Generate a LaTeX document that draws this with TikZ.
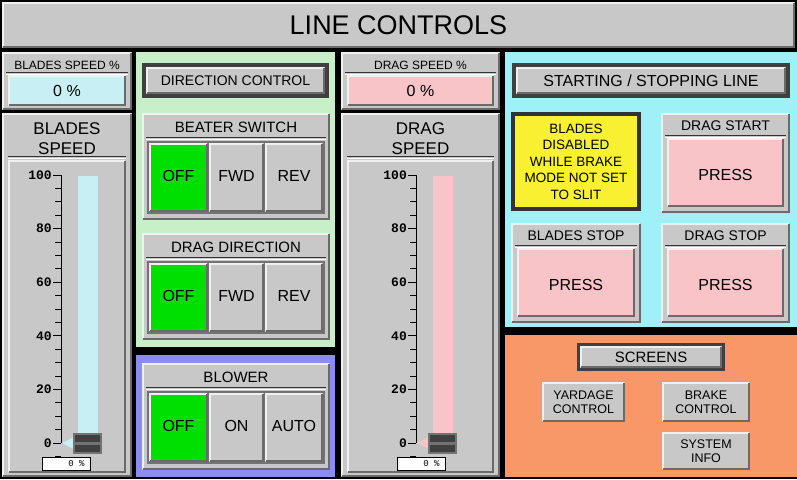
\documentclass[tikz,border=0pt]{standalone}
\usepackage{fontspec}
\setmainfont{Liberation Sans}
\newfontfamily\monof{Liberation Mono}
\definecolor{pg}{HTML}{C8C8C8}
\definecolor{hl}{HTML}{F0F0F0}
\definecolor{sh}{HTML}{6A6A6A}
\definecolor{cy}{HTML}{C8F0F4}
\definecolor{pk}{HTML}{F8C4C8}
\definecolor{grn}{HTML}{C8F0C8}
\definecolor{blu}{HTML}{8C8CF0}
\definecolor{cyp}{HTML}{A0F0F8}
\definecolor{org}{HTML}{F89868}
\definecolor{on}{HTML}{00E000}
\definecolor{yl}{HTML}{F8F030}
\newcommand\bev[5]{%
  \fill[#5] (#1,#2) rectangle (#3,#4);
  \draw[line width=2pt,hl] (#1+1,#4-1)--(#1+1,#2+1)--(#3-1,#2+1);
  \draw[line width=2pt,sh] (#3-1,#2+1)--(#3-1,#4-1)--(#1+1,#4-1);}
\newcommand\sep[3]{\draw[line width=1pt,black!80] (#1,#3)--(#2,#3); \draw[line width=1pt,white] (#1,#3+2)--(#2,#3+2);}
\newcommand\btn[6]{\bev{#1}{#2}{#3}{#4}{#5}\node[txt] (#6) at ({(#1+#3)/2},{(#2+#4)/2}) {\strut #6};}
\tikzset{txt/.style={font=\fontsize{16}{18}\selectfont,inner sep=0pt,align=center},
 lbl/.style={font=\fontsize{15}{17}\selectfont,inner sep=0pt,align=center},
 sm/.style={font=\fontsize{12}{13}\selectfont,inner sep=0pt,align=center},
 sc/.style={font=\monof\bfseries\fontsize{13}{14}\selectfont,inner sep=0pt,anchor=east}}
\begin{document}
\begin{tikzpicture}[x=1pt,y=-1pt]
\useasboundingbox (0,0) rectangle (797,479);
\fill[black] (0,0) rectangle (797,479);
% title
\bev{2}{2}{795}{48}{pg}
\node[font=\fontsize{27}{30}\selectfont] (title) at (398.5,25) {LINE CONTROLS};
% ---- gauge columns
\newcommand\gauge[7]{% x1 x2 label1 label2 color name axisx
 \bev{#1}{52}{#2}{110}{pg}
 \node[sm] (#6pl) at ({(#1+#2)/2},65) {#3};
 \sep{#1+4}{#2-4}{72}
 \bev{#1+6}{75}{#2-6}{106}{#5}
 \node[txt] (#6pv) at ({(#1+#2)/2},91) {0 \%};
 \bev{#1}{113}{#2}{477}{pg}
 \node[lbl,font=\fontsize{17}{20}\selectfont] (#6gl) at ({(#1+#2)/2},139) {#4};
 \sep{#1+6}{#2-6}{156}
 \bev{#1+6}{160}{#2-6}{473}{pg}
 \fill[#5] (#7+17,176) rectangle (#7+37,440);
 \draw[line width=1pt] (#7,175)--(#7,443);
 \foreach \i/\v in {0/100,1/80,2/60,3/40,4/20,5/0}{
   \draw[line width=1pt] (#7-8,175+53.6*\i)--(#7,175+53.6*\i);
   \node[sc] at (#7-9,175+53.6*\i) {\v};}
 \foreach \i in {1,...,24}{\draw[line width=1pt] (#7-6,175+13.4*\i)--(#7,175+13.4*\i);}
 \fill[#5] (#7+1,443)--(#7+13,437)--(#7+13,449)--cycle;
 \fill[black!55] (#7+12,433) rectangle (#7+41,454);
 \fill[black!75] (#7+14,435) rectangle (#7+39,442);
 \fill[black!75] (#7+14,445) rectangle (#7+39,452);
 \draw[fill=white] (#7-19,457) rectangle (#7+29,470);
 \node[font=\monof\fontsize{9}{10}\selectfont,anchor=east] (#6v) at (#7+27,463.5) {0 \%};
}
\gauge{2}{132}{BLADES SPEED \%}{BLADES\\SPEED}{cy}{b}{61}
\gauge{341}{500}{DRAG SPEED \%}{DRAG\\SPEED}{pk}{d}{416}
% ---- green panel
\fill[grn] (136,52) rectangle (335,347);
\fill[black!75] (142,63) rectangle (329,98);
\bev{146}{67}{325}{94}{pg}
\node[sm,font=\fontsize{14}{16}\selectfont] (dc) at (235.5,80.5) {DIRECTION CONTROL};
\newcommand\sw[6]{% top bottom label b1 b2 b3
 \bev{142}{#1}{330}{#2}{pg}
 \node[lbl] at (236,#1+14) {#3};
 \sep{146}{326}{#1+24}
 \fill[black!55] (147,#1+28) rectangle (325,#2-6);
 \btn{149}{#1+30}{208}{#2-8}{on}{#4}
 \btn{209}{#1+30}{264}{#2-8}{pg}{#5}
 \btn{265}{#1+30}{323}{#2-8}{pg}{#6}
}
\sw{113}{220}{BEATER SWITCH}{OFF}{FWD}{REV}
\begin{scope}\sw{233}{340}{DRAG DIRECTION}{OFF}{FWD}{REV}\end{scope}
% blue
\fill[blu] (136,355) rectangle (335,477);
\sw{363}{470}{BLOWER}{OFF}{ON}{AUTO}
% ---- cyan panel
\fill[cyp] (505,52) rectangle (797,327);
\fill[black!75] (512,63) rectangle (790,98);
\bev{516}{67}{786}{94}{pg}
\node[txt] (ssl) at (651,80.5) {STARTING / STOPPING LINE};
\fill[black!80] (511,112) rectangle (641,211);
\fill[yl] (515,116) rectangle (637,207);
\node[sm,font=\fontsize{13.5}{16.5}\selectfont] (dis) at (576,161.5) {BLADES\\DISABLED\\WHILE BRAKE\\MODE NOT SET\\TO SLIT};
\newcommand\pb[5]{% x1 y1 x2 y2 label
 \bev{#1}{#2}{#3}{#4}{pg}
 \node[sm,font=\fontsize{14}{16}\selectfont] at ({(#1+#3)/2},#2+13) {#5};
 \sep{#1+4}{#3-4}{#2+22}
 \bev{#1+6}{#2+25}{#3-6}{#4-6}{pk}
 \node[txt] at ({(#1+#3)/2},{(#2+#4)/2+12}) {PRESS};
}
\pb{661}{113}{790}{213}{DRAG START}
\pb{511}{223}{641}{323}{BLADES STOP}
\pb{661}{223}{790}{323}{DRAG STOP}
% ---- orange
\fill[org] (505,335) rectangle (797,477);
\fill[black!75] (577,343) rectangle (725,371);
\bev{580}{346}{722}{368}{pg}
\node[lbl] (scr) at (651,357) {SCREENS};
\bev{542}{382}{625}{422}{pg}
\node[sm,font=\fontsize{12.5}{14}\selectfont] (yc) at (583.5,402) {YARDAGE\\CONTROL};
\bev{662}{382}{750}{422}{pg}
\node[sm,font=\fontsize{12.5}{14}\selectfont] (bc) at (706,402) {BRAKE\\CONTROL};
\bev{662}{432}{750}{470}{pg}
\node[sm,font=\fontsize{12.5}{14}\selectfont] (si) at (706,451) {SYSTEM\\INFO};
\end{tikzpicture}
\end{document}
